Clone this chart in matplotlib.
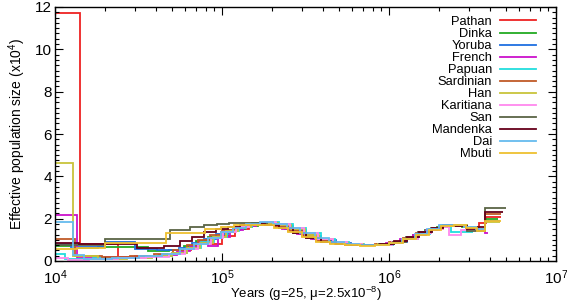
import matplotlib
matplotlib.use("Agg")
import matplotlib.pyplot as plt
from matplotlib.ticker import MultipleLocator, LogLocator, NullFormatter

plt.rcParams['font.family'] = ['Liberation Sans', 'DejaVu Sans']
plt.rcParams['mathtext.fontset'] = 'custom'
plt.rcParams['mathtext.rm'] = 'Liberation Sans'
plt.rcParams['mathtext.it'] = 'Liberation Sans:italic'
plt.rcParams['mathtext.bf'] = 'Liberation Sans:bold'

populations = ["Pathan", "Dinka", "Yoruba", "French", "Papuan", "Sardinian",
               "Han", "Karitiana", "San", "Mandenka", "Dai", "Mbuti"]
colors = ["#ee2222", "#22aa22", "#1f6fe0", "#cc11cc", "#22dddd", "#c05a28",
          "#c8c43c", "#ff88ee", "#5a6445", "#66001a", "#66bbee", "#eec030"]

# Step edges (years) and effective population size (x10^4)
pathan_t = [1.0e4, 1.41e4, 2.4e4, 3.4e4, 4.5e4, 5.6e4, 6.5e4, 7.4e4, 8.6e4, 1.0e5, 1.2e5, 1.45e5, 1.75e5, 2.1e5, 2.55e5, 3.1e5, 3.8e5, 4.6e5, 5.6e5, 6.9e5, 8.5e5, 1.05e6, 1.26e6, 1.5e6, 1.78e6, 2.1e6, 2.5e6, 2.95e6, 3.45e6, 3.8e6, 4.7e6]
pathan_v = [11.7, 0.78, 0.2, 0.24, 0.32, 0.5, 0.72, 0.95, 0.78, 1.2, 1.5, 1.68, 1.74, 1.65, 1.45, 1.2, 0.98, 0.84, 0.76, 0.74, 0.78, 0.9, 1.1, 1.32, 1.52, 1.66, 1.7, 1.58, 1.78, 2.1]

dinka_t = [1.0e4, 1.3e4, 1.8e4, 2.6e4, 3.6e4, 4.8e4, 5.9e4, 7.0e4, 8.3e4, 9.8e4, 1.16e5, 1.38e5, 1.65e5, 2.0e5, 2.4e5, 2.9e5, 3.5e5, 4.3e5, 5.3e5, 6.5e5, 8.0e5, 9.8e5, 1.18e6, 1.4e6, 1.65e6, 1.95e6, 2.3e6, 2.75e6, 3.25e6, 3.75e6, 4.5e6]
dinka_v = [0.72, 0.62, 0.65, 0.68, 0.45, 0.5, 0.72, 0.95, 1.15, 1.35, 1.52, 1.65, 1.72, 1.68, 1.5, 1.28, 1.05, 0.88, 0.78, 0.74, 0.76, 0.86, 1.02, 1.22, 1.45, 1.62, 1.7, 1.6, 1.45, 2.0]

yoruba_t = [1.0e4, 1.25e4, 2.0e4, 3.0e4, 4.1e4, 5.5e4, 6.6e4, 7.8e4, 9.2e4, 1.08e5, 1.28e5, 1.52e5, 1.82e5, 2.2e5, 2.65e5, 3.2e5, 3.9e5, 4.8e5, 5.9e5, 7.2e5, 8.8e5, 1.07e6, 1.28e6, 1.52e6, 1.8e6, 2.12e6, 2.5e6, 2.95e6, 3.4e6, 3.75e6, 4.6e6]
yoruba_v = [0.8, 0.65, 0.9, 0.55, 0.5, 0.62, 0.85, 1.05, 1.28, 1.48, 1.62, 1.72, 1.75, 1.65, 1.45, 1.2, 0.98, 0.84, 0.77, 0.75, 0.8, 0.92, 1.12, 1.35, 1.55, 1.7, 1.72, 1.6, 1.5, 1.9]

french_t = [1.0e4, 1.35e4, 2.0e4, 3.0e4, 4.2e4, 5.4e4, 6.4e4, 7.3e4, 8.2e4, 9.5e4, 1.12e5, 1.34e5, 1.6e5, 1.92e5, 2.3e5, 2.8e5, 3.4e5, 4.15e5, 5.1e5, 6.3e5, 7.8e5, 9.6e5, 1.17e6, 1.4e6, 1.67e6, 2.0e6, 2.4e6, 2.85e6, 3.3e6, 3.75e6, 3.9e6]
french_v = [2.15, 0.15, 0.18, 0.22, 0.3, 0.48, 0.7, 0.9, 0.72, 1.15, 1.45, 1.65, 1.74, 1.7, 1.52, 1.28, 1.05, 0.88, 0.78, 0.74, 0.76, 0.86, 1.04, 1.25, 1.48, 1.65, 1.72, 1.62, 1.45, 1.3]

papuan_t = [1.0e4, 1.15e4, 1.7e4, 2.6e4, 3.8e4, 5.0e4, 6.2e4, 7.5e4, 9.0e4, 1.07e5, 1.27e5, 1.52e5, 1.82e5, 2.2e5, 2.65e5, 3.2e5, 3.9e5, 4.75e5, 5.8e5, 7.1e5, 8.7e5, 1.06e6, 1.27e6, 1.5e6, 1.77e6, 2.05e6, 2.35e6, 3.2e6]
papuan_v = [0.32, 0.1, 0.12, 0.16, 0.25, 0.4, 0.62, 0.88, 1.15, 1.42, 1.62, 1.78, 1.85, 1.75, 1.55, 1.3, 1.05, 0.88, 0.78, 0.74, 0.76, 0.88, 1.06, 1.28, 1.5, 1.68, 1.37]

sardinian_t = [1.0e4, 1.32e4, 1.9e4, 2.8e4, 3.9e4, 5.1e4, 6.2e4, 7.2e4, 8.5e4, 1.0e5, 1.2e5, 1.43e5, 1.72e5, 2.07e5, 2.5e5, 3.0e5, 3.65e5, 4.45e5, 5.45e5, 6.7e5, 8.2e5, 1.0e6, 1.22e6, 1.46e6, 1.74e6, 2.06e6, 2.45e6, 2.9e6, 3.35e6, 3.75e6, 4.7e6]
sardinian_v = [1.05, 0.25, 0.2, 0.25, 0.35, 0.52, 0.75, 0.98, 1.22, 1.45, 1.62, 1.72, 1.72, 1.62, 1.42, 1.18, 0.96, 0.83, 0.76, 0.74, 0.78, 0.9, 1.1, 1.32, 1.52, 1.66, 1.68, 1.58, 1.45, 2.2]

han_t = [1.0e4, 1.28e4, 1.8e4, 2.7e4, 3.8e4, 5.0e4, 6.2e4, 7.4e4, 8.8e4, 1.05e5, 1.25e5, 1.5e5, 1.8e5, 2.15e5, 2.6e5, 3.15e5, 3.8e5, 4.65e5, 5.7e5, 7.0e5, 8.6e5, 1.05e6, 1.26e6, 1.5e6, 1.78e6, 2.1e6, 2.48e6, 2.92e6, 3.4e6, 3.75e6, 4.6e6]
han_v = [4.65, 0.22, 0.1, 0.14, 0.22, 0.38, 0.6, 0.85, 1.12, 1.4, 1.6, 1.74, 1.78, 1.7, 1.5, 1.25, 1.02, 0.86, 0.78, 0.75, 0.78, 0.9, 1.08, 1.3, 1.5, 1.66, 1.7, 1.6, 1.5, 1.85]

karitiana_t = [1.0e4, 1.2e4, 1.6e4, 2.4e4, 3.5e4, 4.8e4, 6.0e4, 7.2e4, 8.6e4, 1.02e5, 1.22e5, 1.46e5, 1.75e5, 2.1e5, 2.55e5, 3.1e5, 3.75e5, 4.6e5, 5.6e5, 6.9e5, 8.5e5, 1.04e6, 1.25e6, 1.5e6, 1.78e6, 2.1e6, 2.3e6, 2.7e6, 3.75e6]
karitiana_v = [0.15, 0.05, 0.08, 0.12, 0.2, 0.35, 0.58, 0.82, 1.1, 1.38, 1.6, 1.76, 1.82, 1.75, 1.55, 1.3, 1.05, 0.88, 0.78, 0.74, 0.76, 0.88, 1.06, 1.3, 1.52, 1.62, 1.23, 1.45]

san_t = [1.0e4, 2.0e4, 4.9e4, 6.4e4, 7.8e4, 9.3e4, 1.1e5, 1.3e5, 1.55e5, 1.85e5, 2.2e5, 2.65e5, 3.2e5, 3.9e5, 4.75e5, 5.8e5, 7.1e5, 8.7e5, 1.06e6, 1.27e6, 1.5e6, 1.78e6, 2.1e6, 2.5e6, 2.95e6, 3.75e6, 5.0e6]
san_v = [0.75, 1.04, 1.46, 1.6, 1.68, 1.74, 1.78, 1.8, 1.78, 1.7, 1.55, 1.32, 1.1, 0.92, 0.82, 0.76, 0.75, 0.8, 0.92, 1.12, 1.35, 1.55, 1.68, 1.65, 1.4, 2.5]

mandenka_t = [1.0e4, 1.4e4, 3.1e4, 4.5e4, 5.6e4, 6.6e4, 7.8e4, 9.2e4, 1.08e5, 1.28e5, 1.52e5, 1.82e5, 2.2e5, 2.65e5, 3.2e5, 3.9e5, 4.8e5, 5.9e5, 7.2e5, 8.8e5, 1.07e6, 1.28e6, 1.52e6, 1.8e6, 2.12e6, 2.5e6, 2.95e6, 3.4e6, 3.75e6, 4.8e6]
mandenka_v = [0.85, 0.8, 0.62, 0.72, 0.95, 1.15, 1.35, 1.5, 1.62, 1.7, 1.74, 1.7, 1.55, 1.32, 1.08, 0.9, 0.8, 0.75, 0.75, 0.82, 0.95, 1.15, 1.38, 1.58, 1.7, 1.66, 1.52, 1.6, 2.3]

dai_t = [1.0e4, 1.28e4, 1.5e4, 2.2e4, 3.2e4, 4.4e4, 5.6e4, 6.8e4, 8.2e4, 9.8e4, 1.17e5, 1.4e5, 1.68e5, 2.02e5, 2.45e5, 2.95e5, 3.6e5, 4.4e5, 5.4e5, 6.6e5, 8.1e5, 1.0e6, 1.2e6, 1.43e6, 1.7e6, 2.0e6, 2.38e6, 2.8e6, 3.3e6, 3.8e6]
dai_v = [1.85, 0.3, 0.1, 0.15, 0.22, 0.35, 0.55, 0.8, 1.08, 1.35, 1.58, 1.74, 1.82, 1.76, 1.58, 1.32, 1.08, 0.9, 0.8, 0.75, 0.76, 0.87, 1.05, 1.28, 1.5, 1.68, 1.72, 1.62, 1.5]

mbuti_t = [1.0e4, 1.35e4, 2.0e4, 4.6e4, 7.9e4, 9.8e4, 1.18e5, 1.42e5, 1.7e5, 2.05e5, 2.5e5, 3.0e5, 3.65e5, 4.45e5, 5.45e5, 6.7e5, 8.2e5, 1.0e6, 1.22e6, 1.46e6, 1.74e6, 2.06e6, 2.45e6, 2.9e6, 3.35e6, 3.75e6, 4.7e6]
mbuti_v = [0.55, 0.62, 0.85, 1.32, 1.5, 1.62, 1.7, 1.72, 1.68, 1.55, 1.35, 1.12, 0.92, 0.8, 0.74, 0.72, 0.75, 0.84, 1.02, 1.25, 1.48, 1.65, 1.68, 1.56, 1.42, 1.9]

series = [(pathan_t, pathan_v), (dinka_t, dinka_v), (yoruba_t, yoruba_v),
          (french_t, french_v), (papuan_t, papuan_v), (sardinian_t, sardinian_v),
          (han_t, han_v), (karitiana_t, karitiana_v), (san_t, san_v),
          (mandenka_t, mandenka_v), (dai_t, dai_v), (mbuti_t, mbuti_v)]

fig = plt.figure(figsize=(5.67, 3.04), dpi=100)
ax = fig.add_axes([55/567, 43/304, 501/567, 254/304])

handles = []
for name, col, (t, v) in zip(populations, colors, series):
    ax.stairs(v, t, baseline=None, color=col, linewidth=1.3, label=name)
    handles.append(plt.Line2D([], [], color=col, linewidth=1.3, label=name))

ax.set_xscale('log')
ax.set_xlim(1e4, 1e7)
ax.set_ylim(0, 12)
ax.yaxis.set_major_locator(MultipleLocator(2))
ax.yaxis.set_minor_locator(MultipleLocator(0.25))
ax.xaxis.set_major_locator(LogLocator(base=10, numticks=10))
ax.xaxis.set_minor_locator(LogLocator(base=10, subs=range(2, 10), numticks=30))
ax.xaxis.set_minor_formatter(NullFormatter())
ax.tick_params(which='both', direction='in', top=True, right=True, width=0.8)
ax.tick_params(which='major', length=6, labelsize=11)
ax.tick_params(which='minor', length=3)
ax.tick_params(axis='y', pad=2)
ax.tick_params(axis='x', pad=5)
for s in ax.spines.values():
    s.set_linewidth(1.0)

ax.set_ylabel("Effective population size (x10$^4$)", fontsize=10, labelpad=5)
ax.set_xlabel("Years (g=25, \u03bc=2.5x10$^{-8}$)", fontsize=9.5, labelpad=-1)

ax.legend(handles=handles, loc='upper right', frameon=False, markerfirst=False,
          fontsize=9.3, handlelength=2.8, labelspacing=0.0, handletextpad=0.6,
          borderaxespad=0.0, bbox_to_anchor=(0.97, 0.985))

fig.savefig("out.png", dpi=100)
